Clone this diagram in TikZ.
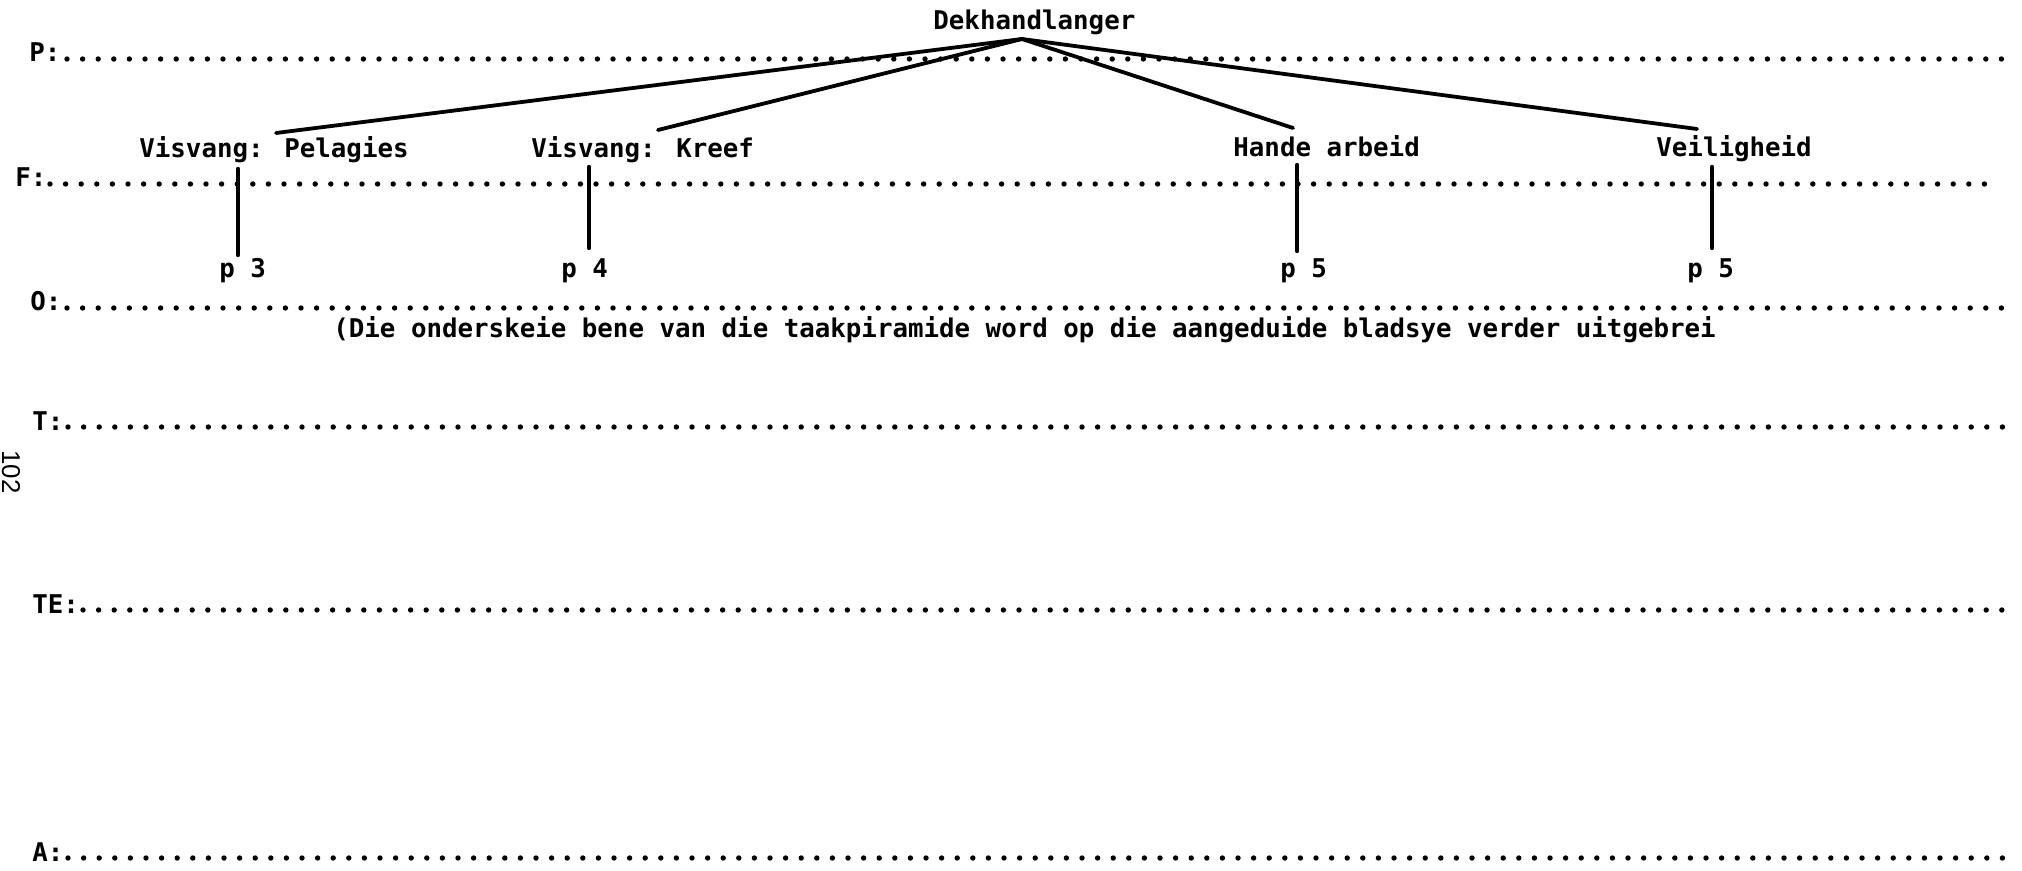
\documentclass[tikz,border=0pt]{standalone}
\usepackage{fontspec}
\newfontfamily\typefont{DejaVu Sans Mono}
\newfontfamily\pagenumfont{Liberation Sans}
\begin{document}
\begin{tikzpicture}[x=0.5pt,y=-0.5pt,
  typed/.style={font=\typefont\bfseries\fontsize{12.9}{15}\selectfont,
                anchor=base west, inner sep=0pt},
  branch/.style={line width=1.9pt, line cap=round},
  stem/.style={line width=2.2pt, line cap=round},
  ]
\useasboundingbox (0,0) rectangle (2022,871);
\fill[white] (0,0) rectangle (2022,871);

% level labels with their dotted writing lines (one dot per typed character cell)
\foreach \name/\lab/\lx/\y/\ds/\n in {
    P/P:/29/59/67/124,
    F/F:/15/184/50/124,
    O/O:/30/308/67/124,
    T/T:/32/427/68/124,
    TE/TE:/32/610/83/123,
    A/A:/32/858/68/124}{
  \node[typed] (row\name) at (\lx,\y+3) {\lab};
  \foreach \i in {0,...,\n}{
    \fill (\ds+\i*15.6,\y) circle[radius=2.7];
  }
}

% task pyramid
\node[typed] (dek)   at (933,30)  {Dekhandlanger};
\node[typed] (pel)   at (139,158) {Visvang: Pelagies};
\node[typed] (kreef) at (531,158) {Visvang: Kreef};
\node[typed] (hande) at (1233,157) {Hande arbeid};
\node[typed] (veil)  at (1656,157) {Veiligheid};

\node[typed] (p3)  at (219,278)  {p 3};
\node[typed] (p4)  at (561,278)  {p 4};
\node[typed] (p5a) at (1280,278) {p 5};
\node[typed] (p5b) at (1687,278) {p 5};

\node[typed] (note) at (333,338)
  {(Die onderskeie bene van die taakpiramide word op die aangeduide bladsye verder uitgebrei};

% page number in the margin
\node[rotate=-90, font=\pagenumfont\fontsize{12.9}{14}\selectfont, inner sep=0pt]
  (pagenum) at (11,472) {102};

% branch points
\coordinate (apex)      at ([shift={(89,9)}]dek.base west);
\coordinate (pel-top)   at ([shift={(137,-25)}]pel.base west);
\coordinate (kreef-top) at ([shift={(127,-28)}]kreef.base west);
\coordinate (hande-top) at ([shift={(60,-29)}]hande.base west);
\coordinate (veil-top)  at ([shift={(41,-28)}]veil.base west);

\coordinate (pel-foot)   at ([shift={(99,11)}]pel.base west);
\coordinate (kreef-foot) at ([shift={(58,9)}]kreef.base west);
\coordinate (hande-foot) at ([shift={(64,8)}]hande.base west);
\coordinate (veil-foot)  at ([shift={(56,10)}]veil.base west);

\coordinate (p3-head)  at ([shift={(19,-23)}]p3.base west);
\coordinate (p4-head)  at ([shift={(28,-30)}]p4.base west);
\coordinate (p5a-head) at ([shift={(17,-27)}]p5a.base west);
\coordinate (p5b-head) at ([shift={(25,-30)}]p5b.base west);

\draw[branch] (apex) -- (pel-top);
\draw[branch] (apex) -- (kreef-top);
\draw[branch] (apex) -- (hande-top);
\draw[branch] (apex) -- (veil-top);

\draw[stem] (pel-foot)   -- (p3-head);
\draw[stem] (kreef-foot) -- (p4-head);
\draw[stem] (hande-foot) -- (p5a-head);
\draw[stem] (veil-foot)  -- (p5b-head);
\end{tikzpicture}
\end{document}
